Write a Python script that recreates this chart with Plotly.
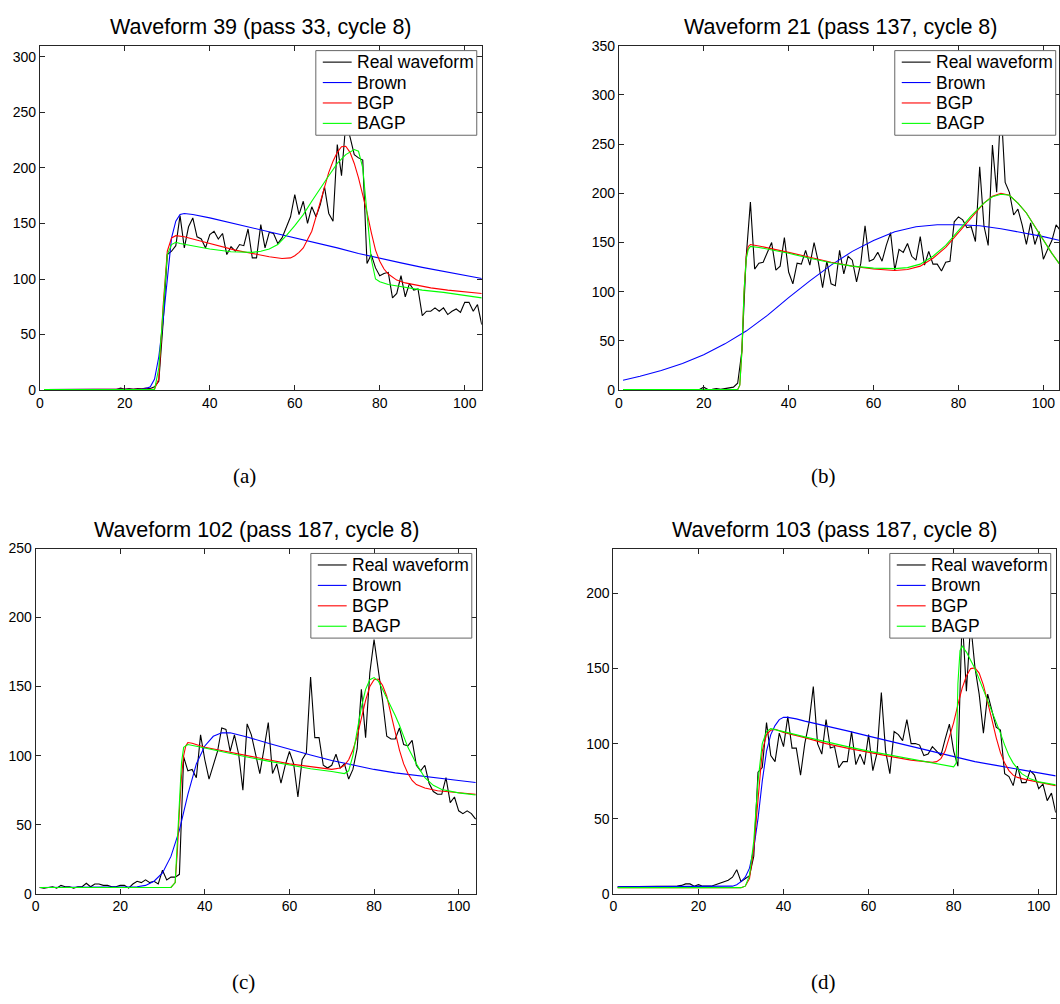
import plotly.graph_objects as go

W, H = 1060, 1004

# ---------------- data ----------------
sample_x = list(range(1, 105))

a_real = [0.5, 0.5, 0.3, 0.5, 0.4, 0.6, 0.3, 0.5, 0.5, 0.4,
          0.6, 0.4, 0.5, 0.5, 0.6, 0.5, 0.5, 0.6, 1.8, 0.8,
          1.5, 0.8, 1.5, 1.2, 1.8, 1.5, 3, 8, 60, 122,
          125, 130, 157, 128, 147, 155, 138, 136, 128, 140,
          143, 136, 141, 122, 129, 125, 131, 130, 145, 119,
          119, 149, 128, 142, 141, 132, 137, 147, 156, 176,
          158, 170, 150, 165, 156, 167, 183, 159, 152, 221,
          193, 240, 228, 212, 209, 207, 114, 122, 110, 103,
          105, 106, 83, 87, 103, 84, 96, 90, 91, 67,
          71, 71, 74, 71, 74, 68, 71, 73, 70, 79,
          79, 71, 77, 59]
a_brown_x = [1, 20, 24, 25, 26, 27, 28, 29, 30, 31, 32, 33, 34, 36, 40, 45, 50, 55, 60, 65, 70, 75, 80, 85, 90, 95, 100, 104]
a_brown_y = [0.5, 0.5, 1, 1.5, 3, 10, 30, 62, 100, 137, 152, 158, 159, 158, 155, 150.5, 146, 141.5, 137.5, 133, 128, 123, 118.5, 114.5, 110.5, 107, 103.5, 100.5]
a_bgp_x = [1, 26, 27, 28, 29, 30, 31, 32, 34, 38, 42, 46, 50, 54, 57, 58, 59, 60, 61, 62, 63, 64, 65, 66, 67, 68, 69, 70, 71, 72, 73, 74, 75, 76, 77, 78, 79, 80, 81, 82, 84, 86, 89, 92, 96, 100, 104]
a_bgp_y = [0.5, 0.5, 1, 10, 75, 125, 137, 139, 138, 134, 130, 126, 123, 120, 118.5, 118.5, 119, 121, 124, 128, 135, 143, 156, 170, 184, 196, 206, 214, 219, 219.5, 214, 204, 191, 176, 160, 142, 126, 116, 109, 104.5, 99, 96.5, 94, 92, 90, 88.5, 87]
a_bagp_x = [1, 27, 28, 29, 30, 31, 32, 33, 35, 40, 45, 48, 50, 52, 54, 56, 58, 60, 62, 64, 66, 68, 70, 72, 74, 75, 76, 77, 78, 79, 80, 82, 85, 90, 95, 100, 104]
a_bagp_y = [0.5, 0.5, 20, 75, 122, 131, 133, 132, 130.5, 127, 124.5, 124, 124, 125, 127, 131, 139, 148, 158, 170, 182, 193, 204, 212, 216.5, 215, 200, 160, 118, 100, 97.5, 95, 93, 90, 88, 85.5, 83]

b_real = [0.5, 0.5, 0.6, 0.5, 0.5, 0.6, 0.5, 0.5, 0.4, 0.5,
          0.5, 0.6, 0.5, 0.5, 0.5, 0.6, 0.5, 0.5, 0.6, 3,
          0.6, 0.8, 1.5, 0.8, 1.5, 2.5, 3, 7, 40, 135,
          191, 123, 129, 130, 141, 150, 122, 126, 155, 120,
          108, 129, 128, 142, 127, 150, 130, 104, 131, 108,
          106, 142, 118, 136, 132, 110, 129, 167, 131, 133,
          140, 131, 147, 160, 122, 143, 140, 149, 136, 132,
          156, 127, 141, 128, 128, 121, 130, 131, 171, 176,
          173, 165, 166, 151, 227, 167, 147, 249, 201, 290,
          211, 201, 178, 184, 168, 148, 170, 148, 161, 133,
          143, 152, 168, 162]
b_brown_x = [1, 5, 10, 15, 20, 25, 30, 35, 40, 45, 50, 55, 60, 65, 70, 75, 80, 85, 90, 95, 100, 104]
b_brown_y = [10, 14, 20, 27, 36, 47, 60, 76, 94, 111, 127, 141, 152, 161, 166, 168, 168, 167, 164, 160, 156, 152]
b_bgp_x = [1, 28, 28.5, 29, 29.5, 30, 30.5, 31, 33, 36, 40, 45, 50, 55, 60, 65, 68, 71, 74, 77, 80, 83, 86, 88, 90, 92, 94, 96, 98, 100, 102, 104]
b_bgp_y = [0.5, 0.5, 5, 40, 100, 135, 146, 148, 146.5, 144, 140, 135, 130, 126, 123, 121.5, 122.5, 126, 134, 145, 160, 176, 190, 197, 200, 198, 190, 180, 166, 152, 139, 127]
b_bagp_y = [0.5, 0.5, 5, 40, 100, 133, 143, 146, 145, 142.5, 139, 134, 129.5, 126, 124, 123.5, 124.5, 128, 136, 147, 162, 177, 190, 196.5, 199, 198, 190, 180, 166, 152, 139, 127]

c_real = [4.5, 4, 4.5, 5, 4, 6, 5, 5, 4, 5,
          5, 7.5, 5, 7, 7, 6, 6, 5, 5, 6,
          6, 4, 7, 9, 8, 10, 8, 9, 7, 17,
          10, 12, 12, 14, 99, 89, 90, 84, 115, 97,
          83, 93, 103, 120, 119, 103, 115, 101, 75, 123,
          115, 101, 87, 105, 124, 87, 94, 80, 93, 103,
          94, 70, 97, 102, 157, 113, 113, 93, 91, 93,
          101, 91, 94, 83, 90, 105, 148, 113, 160, 184,
          163, 140, 114, 112, 112, 120, 108, 107, 111, 93,
          89, 93, 80, 74, 72, 72, 84, 66, 70, 60,
          58, 60, 58, 54]
c_brown_x = [1, 20, 24, 26, 28, 30, 32, 34, 36, 38, 40, 42, 44, 46, 50, 55, 60, 65, 70, 75, 80, 85, 90, 95, 100, 104]
c_brown_y = [4.5, 4.5, 5, 6, 9, 15, 27, 46, 72, 94, 107, 114, 116.5, 116.5, 113.5, 109, 104.5, 100.5, 96.5, 93, 90, 87.5, 85.5, 83.5, 82, 80.5]
c_bgp_x = [1, 32, 33, 33.5, 34, 34.5, 35, 35.5, 36, 37, 40, 45, 50, 55, 60, 65, 70, 72, 73, 74, 75, 76, 77, 78, 79, 80, 81, 82, 83, 84, 85, 86, 87, 88, 89, 90, 92, 95, 100, 104]
c_bgp_y = [4.5, 4.5, 8, 30, 60, 85, 100, 107, 109.5, 109, 106, 103, 100, 97, 94, 92, 90, 91, 93, 97, 104, 114, 127, 140, 150, 155, 155.5, 151, 143, 131, 117, 104, 94, 87, 82, 79, 76.5, 74.5, 73, 72]
c_bagp_x = [1, 32, 33, 33.5, 34, 34.5, 35, 36, 40, 45, 50, 55, 60, 65, 70, 73, 74, 75, 76, 77, 78, 79, 80, 81, 82, 83, 84, 85, 86, 87, 88, 89, 90, 92, 94, 96, 98, 100, 104]
c_bagp_y = [4.5, 4.5, 8, 35, 70, 95, 106, 108, 105.5, 102, 99, 96, 93, 90.5, 88.5, 87, 89, 100, 118, 135, 148, 155, 156.5, 154, 148, 142, 136, 129, 122, 114, 106, 100, 94, 84, 78.5, 75.5, 74, 73, 71.5]

d_real = [4.5, 4.5, 4.5, 5, 4.5, 5, 5, 5, 5, 5,
          4.5, 4.5, 5, 5, 5, 5.5, 6.5, 6.5, 5, 6,
          5, 5, 5, 6, 7, 8, 9, 11, 16, 8,
          10, 12, 25, 81, 84, 114, 92, 88, 107, 98,
          118, 97, 97, 79, 100, 114, 138, 100, 93, 116,
          97, 98, 84, 88, 88, 108, 86, 93, 86, 106,
          82, 94, 134, 95, 80, 108, 106, 102, 116, 100,
          100, 99, 92, 93, 98, 95, 92, 103, 113, 95,
          85, 185, 135, 180, 151, 133, 107, 133, 121, 111,
          109, 80, 78, 72, 85, 74, 74, 82, 79, 70,
          73, 62, 67, 54]
d_brown_x = [1, 26, 28, 29, 30, 31, 32, 33, 34, 35, 36, 37, 38, 39, 40, 41, 43, 45, 50, 55, 60, 65, 70, 75, 80, 85, 90, 95, 100, 104]
d_brown_y = [4.5, 4.5, 5, 6, 8, 11, 17, 30, 50, 75, 95, 106, 112, 116, 117.5, 117.5, 116.5, 115, 112, 108.5, 105, 101.5, 98.5, 95, 91.5, 88, 85.5, 83, 80.5, 78.5]
d_bgp_x = [1, 30, 31, 32, 33, 34, 35, 36, 37, 38, 40, 45, 50, 55, 60, 65, 70, 74, 75, 76, 77, 78, 79, 80, 81, 82, 83, 84, 85, 86, 87, 88, 89, 90, 91, 92, 93, 94, 95, 97, 100, 104]
d_bgp_y = [4, 4, 5, 10, 30, 65, 95, 106, 109, 109.5, 107.5, 104, 100, 97, 94, 91.5, 89, 87.5, 87.5, 88, 90, 95, 104, 114, 126, 137, 145, 150, 150.5, 147, 139, 128, 116, 104, 94, 87, 82, 79, 77.5, 76, 74.5, 72]
d_bagp_x = [1, 30, 31, 32, 33, 34, 35, 36, 37, 38, 40, 45, 50, 55, 60, 65, 70, 75, 78, 80, 80.6, 81, 81.5, 82, 83, 84, 85, 86, 87, 88, 89, 90, 91, 92, 93, 94, 96, 98, 100, 104]
d_bagp_y = [4, 4, 5, 12, 35, 75, 100, 108, 110, 109.5, 108, 104.5, 101, 98, 95, 92.5, 90, 87.5, 86, 84.5, 87, 140, 162, 165, 161, 156, 150, 143, 136, 129, 122, 115, 107, 99, 92, 87, 80, 76.5, 74.5, 72.5]

titles = ["Waveform 39 (pass 33, cycle 8)", "Waveform 21 (pass 137, cycle 8)",
          "Waveform 102 (pass 187, cycle 8)", "Waveform 103 (pass 187, cycle 8)"]
captions = ["(a)", "(b)", "(c)", "(d)"]
series_names = ["Real waveform", "Brown", "BGP", "BAGP"]
x_ticks = [0, 20, 40, 60, 80, 100]

# ---------------- layout geometry (pixels) ----------------
panels = [
    dict(px=(36, 480, 38.3, 388.3), xr=[0, 104], yr=[0, 310], yt=list(range(0, 301, 50)),
         real=a_real, brown=(a_brown_x, a_brown_y), bgp=(a_bgp_x, a_bgp_y), bagp=(a_bagp_x, a_bagp_y),
         leg=(313.3, 43.3, 475), cap=(242, 476), tx=258),
    dict(px=(617.7, 1060, 38.3, 388.3), xr=[0, 103.68], yr=[0, 350], yt=list(range(0, 351, 50)),
         real=b_real, brown=(b_brown_x, b_brown_y), bgp=(b_bgp_x, b_bgp_y), bagp=(b_bgp_x, b_bagp_y),
         leg=(895, 43.3, 1056.7), cap=(823, 476), tx=840),
    dict(px=(31.7, 474.7, 549.3, 900), xr=[0, 104.2], yr=[0, 250], yt=list(range(0, 251, 50)),
         real=c_real, brown=(c_brown_x, c_brown_y), bgp=(c_bgp_x, c_bgp_y), bagp=(c_bagp_x, c_bagp_y),
         leg=(308.3, 554.3, 470), cap=(241, 990), tx=254),
    dict(px=(612.3, 1056.7, 549.3, 900), xr=[0, 104], yr=[0, 230], yt=list(range(0, 201, 50)),
         real=d_real, brown=(d_brown_x, d_brown_y), bgp=(d_bgp_x, d_bgp_y), bagp=(d_bagp_x, d_bagp_y),
         leg=(890, 554.3, 1051.7), cap=(823, 990), tx=834),
]

colors = ["#000000", "#0000ff", "#ff0000", "#00ff00"]
FONT = "Liberation Sans, Arial, Helvetica, sans-serif"


def px_x(v):
    return v / W


def px_y(v):
    return 1 - v / H


fig = go.Figure()
layout = dict(width=W, height=H, margin=dict(l=0, r=0, t=0, b=0),
              paper_bgcolor="white", plot_bgcolor="white", showlegend=False,
              font=dict(family=FONT, color="black", size=14))
annotations = []
shapes = []

for i, p in enumerate(panels):
    n = "" if i == 0 else str(i + 1)
    xa, ya = "x" + n, "y" + n
    l, r, t, b = p["px"]
    series = [(sample_x, p["real"]), p["brown"], p["bgp"], p["bagp"]]
    for name, (sx, sy), col in zip(series_names, series, colors):
        fig.add_trace(go.Scatter(x=sx, y=sy, mode="lines", name=name,
                                 line=dict(color=col, width=1.1),
                                 xaxis=xa, yaxis=ya, hoverinfo="skip"))
    axis_common = dict(showgrid=False, zeroline=False, showline=True, linecolor="#262626",
                       linewidth=1, mirror="ticks", ticks="inside", ticklen=5,
                       tickcolor="#262626", tickfont=dict(size=14, color="black", family=FONT),
                       fixedrange=True)
    layout["xaxis" + n] = dict(axis_common, domain=[px_x(l), min(px_x(r), 1)], range=p["xr"],
                               tickvals=x_ticks, anchor=ya)
    layout["yaxis" + n] = dict(axis_common, domain=[px_y(b), px_y(t)], range=p["yr"],
                               tickvals=p["yt"], anchor=xa)

    # legend box (drawn so it covers the curves like the original opaque legend)
    bl, bt, br = p["leg"]
    bb = bt + 86
    shapes.append(dict(type="rect", xref="paper", yref="paper", layer="above",
                       x0=px_x(bl), x1=px_x(br), y0=px_y(bb), y1=px_y(bt),
                       fillcolor="white", line=dict(color="#666666", width=1)))
    for k, (name, col) in enumerate(zip(series_names, colors)):
        yy = bt + 11.7 + 20.75 * k
        shapes.append(dict(type="line", xref="paper", yref="paper", layer="above",
                           x0=px_x(bl + 7), x1=px_x(bl + 36), y0=px_y(yy), y1=px_y(yy),
                           line=dict(color=col, width=1.1)))
        annotations.append(dict(text=name, x=px_x(bl + 39), y=px_y(yy), xref="paper", yref="paper",
                                xanchor="left", yanchor="middle", showarrow=False,
                                font=dict(size=17.5, family=FONT, color="black")))

    annotations.append(dict(text=titles[i], x=px_x(p["tx"]), y=px_y(t - 19),
                            xref="paper", yref="paper", xanchor="center", yanchor="middle",
                            showarrow=False, font=dict(size=21.5, family=FONT, color="black")))
    cx, cy = p["cap"]
    annotations.append(dict(text=captions[i], x=px_x(cx), y=px_y(cy), xref="paper", yref="paper",
                            xanchor="center", yanchor="middle", showarrow=False,
                            font=dict(size=21, family="Liberation Serif, DejaVu Serif, serif",
                                      color="black")))

layout["annotations"] = annotations
layout["shapes"] = shapes
fig.update_layout(**layout)
fig.write_html("out.html", config={"displayModeBar": False},
               post_script="document.body.style.margin='0';document.body.style.overflow='hidden';")
